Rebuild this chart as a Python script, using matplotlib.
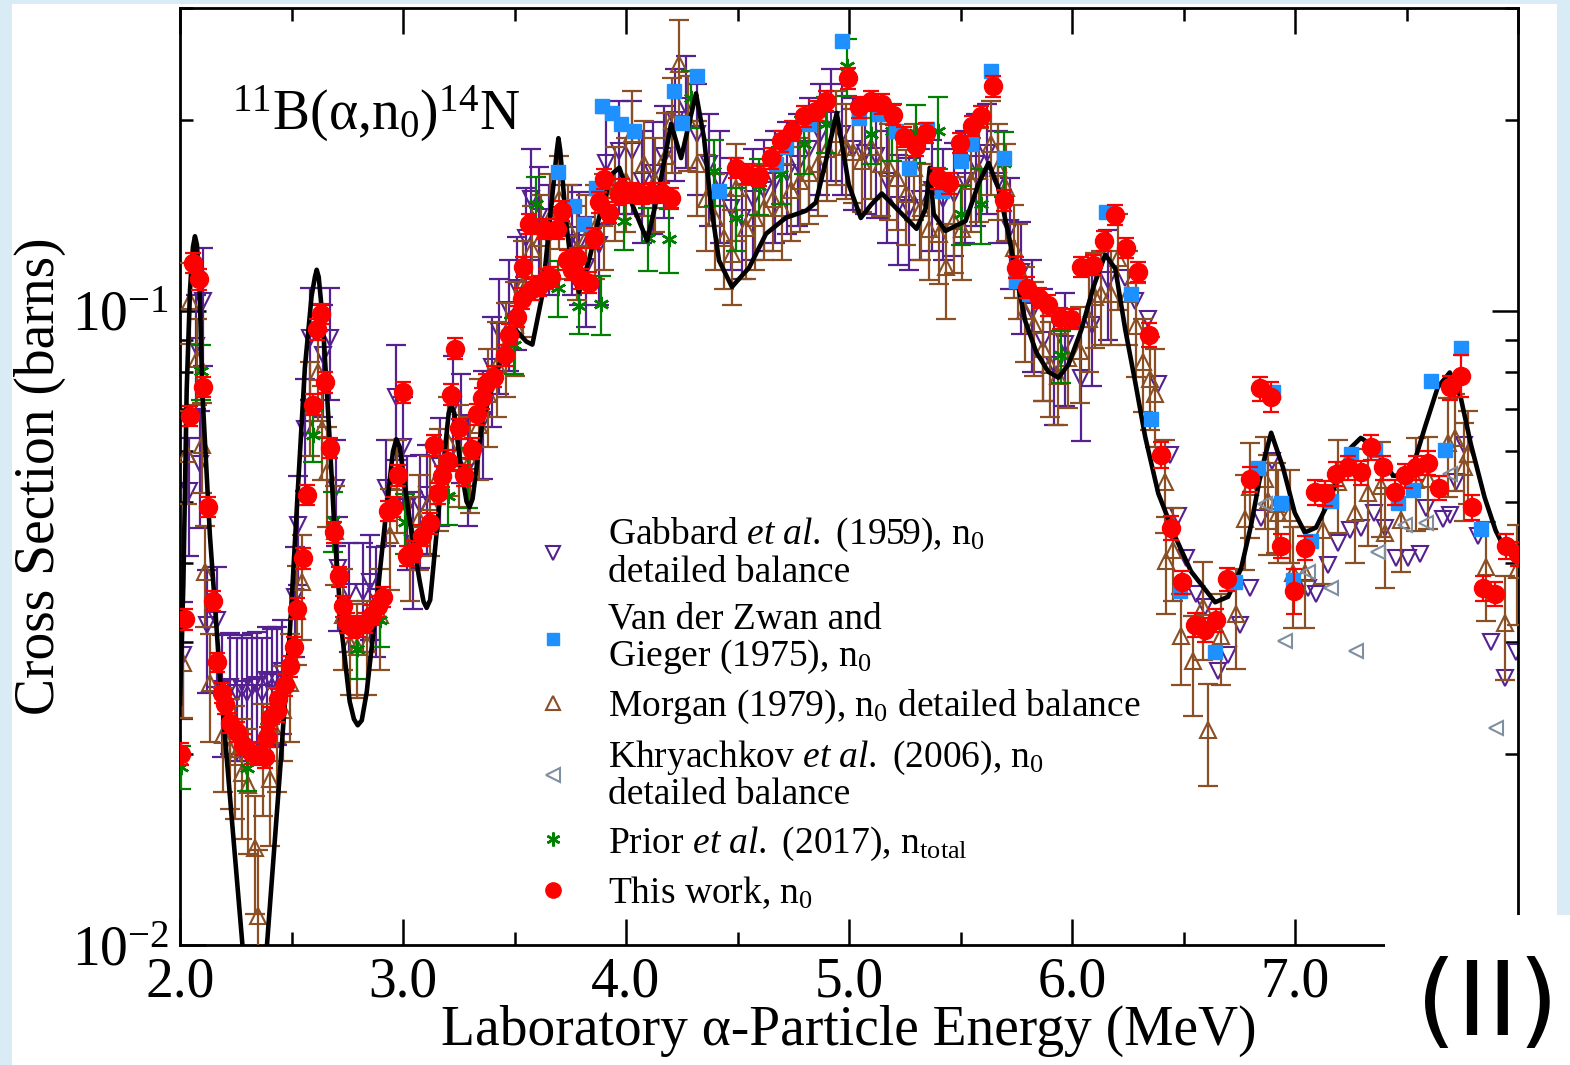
import numpy as np
import matplotlib
matplotlib.use("Agg")
import matplotlib.pyplot as plt
import matplotlib.ticker as mticker
from matplotlib.lines import Line2D
from matplotlib.patches import Rectangle

plt.rcParams['font.family'] = ['Liberation Serif', 'DejaVu Serif']
plt.rcParams['mathtext.fontset'] = 'custom'
plt.rcParams['mathtext.rm'] = 'Liberation Serif'
plt.rcParams['mathtext.it'] = 'Liberation Serif:italic'
plt.rcParams['mathtext.default'] = 'regular'

# ---- data (energy in MeV, cross section in barns) ----
# This work, n0 : (E, sigma, err)
this_work = [
    (2.004, 0.0200, 0.0008), (2.022, 0.0326, 0.0012), (2.045, 0.0683, 0.0025),
    (2.058, 0.1190, 0.0045), (2.085, 0.1120, 0.0042), (2.103, 0.0759, 0.0028),
    (2.125, 0.0491, 0.0018), (2.148, 0.0349, 0.0013), (2.166, 0.0279, 0.0010),
    (2.188, 0.0250, 0.0009), (2.201, 0.0240, 0.0009), (2.224, 0.0224, 0.0008),
    (2.255, 0.0217, 0.0008), (2.283, 0.0207, 0.0008), (2.322, 0.0201, 0.0008),
    (2.358, 0.0200, 0.0008), (2.380, 0.0198, 0.0008), (2.388, 0.0213, 0.0008),
    (2.403, 0.0228, 0.0009), (2.434, 0.0234, 0.0009), (2.440, 0.0244, 0.0009),
    (2.470, 0.0257, 0.0010), (2.492, 0.0275, 0.0010), (2.510, 0.0295, 0.0011),
    (2.523, 0.0339, 0.0013), (2.551, 0.0407, 0.0015), (2.568, 0.0513, 0.0019),
    (2.595, 0.0711, 0.0027), (2.613, 0.0934, 0.0035), (2.634, 0.0989, 0.0037),
    (2.649, 0.0771, 0.0029), (2.671, 0.0608, 0.0023), (2.689, 0.0447, 0.0017),
    (2.712, 0.0381, 0.0014), (2.730, 0.0342, 0.0013), (2.747, 0.0322, 0.0012),
    (2.770, 0.0317, 0.0012), (2.797, 0.0318, 0.0012), (2.828, 0.0322, 0.0012),
    (2.860, 0.0331, 0.0012), (2.886, 0.0342, 0.0013), (2.909, 0.0354, 0.0013),
    (2.931, 0.0484, 0.0018), (2.953, 0.0491, 0.0018), (2.976, 0.0550, 0.0021),
    (2.998, 0.0743, 0.0028), (3.016, 0.0411, 0.0015), (3.043, 0.0417, 0.0016),
    (3.083, 0.0442, 0.0017), (3.119, 0.0462, 0.0017), (3.141, 0.0614, 0.0023),
    (3.159, 0.0515, 0.0019), (3.177, 0.0548, 0.0021), (3.200, 0.0580, 0.0022),
    (3.217, 0.0737, 0.0028), (3.231, 0.0871, 0.0033), (3.253, 0.0652, 0.0024),
    (3.275, 0.0550, 0.0021), (3.311, 0.0606, 0.0023), (3.334, 0.0686, 0.0026),
    (3.356, 0.0727, 0.0027), (3.374, 0.0765, 0.0029), (3.410, 0.0787, 0.0030),
    (3.459, 0.0850, 0.0032), (3.477, 0.0917, 0.0034), (3.513, 0.0979, 0.0037),
    (3.535, 0.1045, 0.0039), (3.540, 0.1173, 0.0044), (3.567, 0.1370, 0.0051),
    (3.580, 0.1080, 0.0040), (3.610, 0.1094, 0.0041), (3.634, 0.1346, 0.0050),
    (3.643, 0.1123, 0.0042), (3.665, 0.1131, 0.0042), (3.692, 0.1346, 0.0050),
    (3.714, 0.1437, 0.0054), (3.736, 0.1203, 0.0045), (3.759, 0.1160, 0.0044),
    (3.782, 0.1210, 0.0045), (3.800, 0.1123, 0.0042), (3.835, 0.1107, 0.0042),
    (3.858, 0.1303, 0.0049), (3.880, 0.1484, 0.0056), (3.902, 0.1613, 0.0060),
    (3.925, 0.1427, 0.0054), (3.970, 0.1523, 0.0057), (3.983, 0.1557, 0.0058),
    (4.028, 0.1534, 0.0058), (4.073, 0.1528, 0.0057), (4.117, 0.1534, 0.0058),
    (4.162, 0.1534, 0.0058), (4.202, 0.1506, 0.0056), (4.493, 0.1679, 0.0063),
    (4.543, 0.1644, 0.0062), (4.596, 0.1632, 0.0061), (4.650, 0.1740, 0.0065),
    (4.695, 0.1850, 0.0069), (4.744, 0.1920, 0.0072), (4.798, 0.2027, 0.0076),
    (4.851, 0.2065, 0.0077), (4.896, 0.2141, 0.0080), (4.995, 0.2326, 0.0087),
    (5.044, 0.2095, 0.0079), (5.098, 0.2141, 0.0080), (5.147, 0.2118, 0.0079),
    (5.196, 0.2035, 0.0076), (5.245, 0.1879, 0.0070), (5.299, 0.1820, 0.0068),
    (5.344, 0.1907, 0.0072), (5.398, 0.1618, 0.0061), (5.447, 0.1589, 0.0060),
    (5.496, 0.1840, 0.0069), (5.550, 0.1956, 0.0073), (5.594, 0.2027, 0.0076),
    (5.644, 0.2257, 0.0085), (5.697, 0.1493, 0.0056), (5.747, 0.1169, 0.0044),
    (5.796, 0.1087, 0.0041), (5.850, 0.1048, 0.0039), (5.894, 0.1020, 0.0038),
    (5.948, 0.0973, 0.0036), (5.997, 0.0971, 0.0036), (6.042, 0.1173, 0.0044),
    (6.096, 0.1182, 0.0044), (6.145, 0.1288, 0.0048), (6.194, 0.1416, 0.0053),
    (6.244, 0.1256, 0.0047), (6.297, 0.1152, 0.0043), (6.346, 0.0916, 0.0040),
    (6.400, 0.0593, 0.0028), (6.445, 0.0455, 0.0020), (6.494, 0.0373, 0.0016),
    (6.552, 0.0320, 0.0014), (6.597, 0.0314, 0.0014), (6.646, 0.0325, 0.0014),
    (6.696, 0.0377, 0.0016), (6.799, 0.0542, 0.0024), (6.843, 0.0754, 0.0033),
    (6.893, 0.0732, 0.0040), (6.937, 0.0426, 0.0019), (6.995, 0.0362, 0.0030),
    (7.044, 0.0423, 0.0019), (7.090, 0.0517, 0.0023), (7.134, 0.0515, 0.0023),
    (7.183, 0.0553, 0.0024), (7.237, 0.0566, 0.0025), (7.295, 0.0556, 0.0024),
    (7.340, 0.0609, 0.0027), (7.394, 0.0566, 0.0025), (7.448, 0.0517, 0.0023),
    (7.492, 0.0550, 0.0024), (7.542, 0.0566, 0.0025), (7.595, 0.0576, 0.0025),
    (7.645, 0.0526, 0.0023), (7.694, 0.0757, 0.0033), (7.743, 0.0790, 0.0060),
    (7.792, 0.0490, 0.0022), (7.842, 0.0365, 0.0016), (7.895, 0.0358, 0.0016),
    (7.944, 0.0425, 0.0019), (8.000, 0.0414, 0.0018),
]

# Gabbard et al. (1959) : (E, sigma, err)  err 0 = no bar drawn
gabbard = [
    (2.013, 0.0287, 0.006), (2.040, 0.052, 0.011), (2.070, 0.088, 0.018),
    (2.090, 0.0574, 0.012), (2.103, 0.1037, 0.022), (2.120, 0.032, 0.007),
    (2.166, 0.0325, 0.007), (2.190, 0.0253, 0.0055), (2.224, 0.0255, 0.0055),
    (2.255, 0.0250, 0.0055), (2.278, 0.0253, 0.0055), (2.300, 0.0250, 0.0055),
    (2.322, 0.0255, 0.0055), (2.345, 0.0257, 0.0055), (2.367, 0.0250, 0.0055),
    (2.390, 0.0262, 0.0055), (2.412, 0.0260, 0.0055), (2.434, 0.0262, 0.0055),
    (2.457, 0.0270, 0.0055), (2.515, 0.0354, 0.007), (2.528, 0.0459, 0.009),
    (2.560, 0.0650, 0.013), (2.582, 0.0904, 0.018), (2.640, 0.0850, 0.017),
    (2.671, 0.0904, 0.018), (2.700, 0.0526, 0.010), (2.710, 0.0393, 0.008),
    (2.760, 0.0360, 0.007), (2.820, 0.0360, 0.007), (2.850, 0.0373, 0.007),
    (2.880, 0.0354, 0.007), (2.925, 0.0526, 0.010), (2.970, 0.0732, 0.015),
    (3.000, 0.0610, 0.012), (3.016, 0.0490, 0.010), (3.043, 0.0428, 0.009),
    (3.074, 0.0493, 0.010), (3.106, 0.0513, 0.010), (3.164, 0.0568, 0.011),
    (3.222, 0.0709, 0.014), (3.262, 0.0664, 0.013), (3.290, 0.0568, 0.011),
    (3.357, 0.0673, 0.013), (3.397, 0.0816, 0.016), (3.432, 0.0930, 0.019),
    (3.477, 0.1004, 0.020), (3.513, 0.1087, 0.022), (3.553, 0.1303, 0.026),
    (3.575, 0.1500, 0.030), (3.610, 0.1406, 0.028), (3.656, 0.1318, 0.026),
    (3.759, 0.1318, 0.026), (3.790, 0.1280, 0.026), (3.822, 0.1173, 0.023),
    (3.880, 0.1270, 0.025), (3.911, 0.1710, 0.034), (3.970, 0.1782, 0.036),
    (4.028, 0.1782, 0.036), (4.070, 0.160, 0.032), (4.120, 0.165, 0.033),
    (4.170, 0.175, 0.035), (4.220, 0.200, 0.040), (4.270, 0.210, 0.042),
    (4.320, 0.190, 0.038), (4.370, 0.170, 0.034), (4.420, 0.160, 0.032),
    (4.470, 0.145, 0.029), (4.520, 0.140, 0.028), (4.570, 0.150, 0.030),
    (4.620, 0.155, 0.031), (4.670, 0.160, 0.032), (4.720, 0.165, 0.033),
    (4.770, 0.170, 0.034), (4.820, 0.180, 0.036), (4.870, 0.190, 0.038),
    (4.920, 0.200, 0.040), (4.970, 0.190, 0.038), (5.020, 0.180, 0.036),
    (5.070, 0.177, 0.035), (5.120, 0.175, 0.035), (5.170, 0.160, 0.032),
    (5.220, 0.147, 0.029), (5.270, 0.145, 0.029), (5.320, 0.150, 0.030),
    (5.370, 0.155, 0.031), (5.420, 0.150, 0.030), (5.470, 0.153, 0.031),
    (5.520, 0.160, 0.032), (5.570, 0.170, 0.034), (5.620, 0.177, 0.035),
    (5.670, 0.160, 0.032), (5.720, 0.135, 0.027), (5.770, 0.115, 0.023),
    (5.820, 0.100, 0.020), (5.870, 0.090, 0.018), (5.920, 0.082, 0.016),
    (5.970, 0.0887, 0.018), (6.042, 0.0784, 0.016), (6.090, 0.095, 0.019),
    (6.163, 0.1119, 0.022), (6.239, 0.1127, 0), (6.284, 0.1037, 0),
    (6.342, 0.0971, 0), (6.387, 0.0765, 0), (6.440, 0.0593, 0),
    (6.476, 0.0474, 0), (6.512, 0.0408, 0), (6.557, 0.0358, 0),
    (6.597, 0.0341, 0), (6.655, 0.0270, 0), (6.700, 0.0287, 0),
    (6.753, 0.0320, 0), (6.799, 0.0366, 0), (6.848, 0.0471, 0),
    (6.897, 0.0580, 0), (7.058, 0.0366, 0), (7.094, 0.0358, 0),
    (7.148, 0.0397, 0), (7.192, 0.0430, 0), (7.246, 0.0451, 0),
    (7.295, 0.0455, 0), (7.353, 0.0480, 0), (7.403, 0.0455, 0),
    (7.452, 0.0408, 0), (7.506, 0.0408, 0), (7.560, 0.0414, 0),
    (7.587, 0.0488, 0), (7.663, 0.0470, 0), (7.694, 0.0476, 0),
    (7.720, 0.0536, 0), (7.760, 0.0613, 0), (7.820, 0.0442, 0),
    (7.877, 0.0300, 0), (7.940, 0.0264, 0), (7.990, 0.0290, 0),
]

# Morgan (1979) : (E, sigma, err)
morgan = [
    (2.013, 0.0278, 0.005), (2.030, 0.0595, 0.010), (2.045, 0.1037, 0.015),
    (2.076, 0.0840, 0.013), (2.098, 0.0615, 0.010), (2.112, 0.0387, 0.007),
    (2.134, 0.0259, 0.005), (2.192, 0.0214, 0.004), (2.224, 0.0204, 0.004),
    (2.246, 0.0198, 0.004), (2.278, 0.0187, 0.004), (2.304, 0.0179, 0.004),
    (2.336, 0.0142, 0.003), (2.350, 0.0111, 0.003), (2.372, 0.0200, 0.004),
    (2.403, 0.0183, 0.004), (2.434, 0.0214, 0.004), (2.461, 0.0235, 0.004),
    (2.492, 0.0259, 0.005), (2.523, 0.0336, 0.006), (2.546, 0.0373, 0.007),
    (2.582, 0.0709, 0.012), (2.618, 0.0799, 0.013), (2.636, 0.0650, 0.011),
    (2.658, 0.0556, 0.010), (2.694, 0.0450, 0.008), (2.730, 0.0331, 0.006),
    (2.761, 0.0298, 0.005), (2.792, 0.0295, 0.005), (2.837, 0.0298, 0.005),
    (2.895, 0.0331, 0.006), (2.940, 0.0443, 0.008), (2.971, 0.0536, 0.009),
    (3.030, 0.0428, 0.008), (3.070, 0.0470, 0.008), (3.120, 0.0500, 0.009),
    (3.160, 0.0550, 0.010), (3.200, 0.0620, 0.011), (3.250, 0.0600, 0.011),
    (3.300, 0.0580, 0.010), (3.340, 0.0660, 0.012), (3.380, 0.0740, 0.013),
    (3.420, 0.0820, 0.014), (3.460, 0.0880, 0.015), (3.500, 0.0950, 0.016),
    (3.540, 0.1100, 0.019), (3.580, 0.1250, 0.021), (3.620, 0.1300, 0.022),
    (3.660, 0.1400, 0.024), (3.700, 0.1500, 0.025), (3.740, 0.1350, 0.023),
    (3.780, 0.1250, 0.021), (3.820, 0.1300, 0.022), (3.860, 0.1350, 0.023),
    (3.900, 0.1400, 0.024), (3.950, 0.1550, 0.026), (4.000, 0.1600, 0.027),
    (4.028, 0.1900, 0.032), (4.080, 0.1700, 0.029), (4.130, 0.1600, 0.027),
    (4.180, 0.1750, 0.030), (4.207, 0.1990, 0.034), (4.238, 0.2450, 0.042),
    (4.280, 0.2000, 0.034), (4.320, 0.1700, 0.029), (4.360, 0.1500, 0.026),
    (4.400, 0.1400, 0.024), (4.440, 0.1300, 0.022), (4.475, 0.1229, 0.021),
    (4.493, 0.1560, 0.027), (4.540, 0.1350, 0.023), (4.580, 0.1400, 0.024),
    (4.620, 0.1450, 0.025), (4.660, 0.1500, 0.026), (4.700, 0.1450, 0.025),
    (4.740, 0.1550, 0.026), (4.780, 0.1600, 0.027), (4.820, 0.1650, 0.028),
    (4.860, 0.1700, 0.029), (4.900, 0.1800, 0.031), (4.940, 0.1900, 0.032),
    (4.985, 0.1810, 0.031), (5.020, 0.1780, 0.030), (5.057, 0.1720, 0.029),
    (5.100, 0.1810, 0.031), (5.142, 0.1700, 0.029), (5.178, 0.1680, 0.029),
    (5.214, 0.1620, 0.028), (5.254, 0.1530, 0.026), (5.290, 0.1680, 0.029),
    (5.322, 0.1450, 0.025), (5.357, 0.1346, 0.023), (5.402, 0.1320, 0.022),
    (5.433, 0.1170, 0.020), (5.469, 0.1385, 0.024), (5.505, 0.1346, 0.023),
    (5.545, 0.1600, 0.027), (5.581, 0.1660, 0.028), (5.635, 0.1833, 0.031),
    (5.670, 0.1680, 0.029), (5.706, 0.1560, 0.027), (5.738, 0.1256, 0.021),
    (5.760, 0.1169, 0.020), (5.790, 0.1000, 0.017), (5.830, 0.0950, 0.016),
    (5.870, 0.0870, 0.015), (5.900, 0.0820, 0.014), (5.939, 0.0790, 0.013),
    (5.984, 0.0843, 0.014), (6.038, 0.0865, 0.015), (6.074, 0.0971, 0.017),
    (6.105, 0.1052, 0.018), (6.132, 0.1064, 0.018), (6.176, 0.1064, 0.018),
    (6.208, 0.1211, 0.021), (6.252, 0.1064, 0.018), (6.288, 0.0947, 0.016),
    (6.320, 0.0831, 0.014), (6.351, 0.0779, 0.013), (6.373, 0.0740, 0.013),
    (6.418, 0.0536, 0.009), (6.423, 0.0403, 0.007), (6.454, 0.0419, 0.007),
    (6.490, 0.0307, 0.005), (6.543, 0.0280, 0.005), (6.588, 0.0341, 0.006),
    (6.610, 0.0218, 0.004), (6.669, 0.0307, 0.005), (6.736, 0.0332, 0.006),
    (6.776, 0.0470, 0.008), (6.799, 0.0528, 0.009), (6.866, 0.0542, 0.009),
    (6.880, 0.0502, 0.009), (6.915, 0.0495, 0.008), (6.924, 0.0480, 0.008),
    (6.977, 0.0480, 0.008), (6.990, 0.0386, 0.007), (7.044, 0.0386, 0.007),
    (7.125, 0.0451, 0.008), (7.192, 0.0536, 0.009), (7.268, 0.0480, 0.008),
    (7.327, 0.0515, 0.009), (7.385, 0.0530, 0.009), (7.403, 0.0446, 0.008),
    (7.475, 0.0467, 0.008), (7.542, 0.0540, 0.009), (7.595, 0.0543, 0.009),
    (7.685, 0.0618, 0.011), (7.716, 0.0630, 0.011), (7.760, 0.0566, 0.010),
    (7.774, 0.0595, 0.010), (7.855, 0.0394, 0.007), (7.940, 0.0322, 0.006),
    (7.994, 0.0390, 0.007),
]

# Van der Zwan and Gieger (1975) : (E, sigma)
zwan = [
    (3.697, 0.1656), (3.768, 0.1463), (3.813, 0.1370), (3.867, 0.1560),
    (3.893, 0.2102), (3.938, 0.2048), (3.978, 0.1970), (4.037, 0.1920),
    (4.216, 0.2221), (4.252, 0.1975), (4.319, 0.2343), (4.417, 0.1546),
    (4.672, 0.1700), (4.717, 0.1810), (4.820, 0.1970), (4.968, 0.2659),
    (5.044, 0.2012), (5.133, 0.2040), (5.210, 0.1920), (5.268, 0.1680),
    (5.348, 0.1935), (5.415, 0.1546), (5.500, 0.1720), (5.545, 0.1833),
    (5.639, 0.2387), (5.693, 0.1740), (5.751, 0.1115), (5.805, 0.1064),
    (6.154, 0.1431), (6.266, 0.1064), (6.355, 0.0676), (6.485, 0.0361),
    (6.642, 0.0290), (6.731, 0.0373), (6.835, 0.0564), (6.902, 0.0743),
    (6.937, 0.0497), (6.990, 0.0376), (7.072, 0.0434), (7.161, 0.0502),
    (7.250, 0.0595), (7.358, 0.0602), (7.461, 0.0497), (7.528, 0.0521),
    (7.609, 0.0776), (7.672, 0.0602), (7.743, 0.0874), (7.833, 0.0453),
]

# Khryachkov et al. (2006) : (E, sigma)
khryachkov = [
    (6.866, 0.0495), (6.955, 0.0302), (7.058, 0.0387), (7.161, 0.0366),
    (7.273, 0.0291), (7.371, 0.0416), (7.492, 0.0459), (7.587, 0.0462),
    (7.694, 0.0553), (7.900, 0.0220),
]

# Prior et al. (2017), n_total : (E, sigma, err)
prior = [
    (2.004, 0.0191, 0.0015), (2.094, 0.0804, 0.008), (2.300, 0.0190, 0.0015),
    (2.595, 0.0637, 0.006), (2.685, 0.0467, 0.005), (2.792, 0.0293, 0.003),
    (2.895, 0.0325, 0.003), (3.007, 0.0464, 0.005), (3.200, 0.0510, 0.005),
    (3.290, 0.0548, 0.006), (3.499, 0.0884, 0.009), (3.598, 0.1474, 0.015),
    (3.697, 0.1087, 0.011), (3.790, 0.1018, 0.010), (3.888, 0.1026, 0.011),
    (3.992, 0.1385, 0.014), (4.100, 0.1303, 0.015), (4.193, 0.1298, 0.015),
    (4.290, 0.2163, 0.022), (4.395, 0.1660, 0.020), (4.493, 0.1401, 0.016),
    (4.596, 0.1573, 0.016), (4.695, 0.1644, 0.017), (4.798, 0.1833, 0.019),
    (4.896, 0.1970, 0.020), (4.990, 0.2427, 0.025), (5.098, 0.1900, 0.020),
    (5.192, 0.1920, 0.020), (5.299, 0.1907, 0.020), (5.398, 0.1920, 0.025),
    (5.500, 0.1421, 0.015), (5.594, 0.1475, 0.020), (5.693, 0.1710, 0.020),
    (5.950, 0.0850, 0.008),
]

# R-matrix / theory curve
curve_e = [2.000, 2.015, 2.030, 2.045, 2.058, 2.067, 2.076, 2.088, 2.100, 2.134,
           2.180, 2.233, 2.280, 2.330, 2.390, 2.448, 2.493, 2.529, 2.560, 2.590,
           2.605, 2.613, 2.622, 2.640, 2.671, 2.694, 2.725, 2.761, 2.780, 2.797,
           2.815, 2.837, 2.880, 2.925, 2.955, 2.970, 2.985, 3.030, 3.074, 3.092,
           3.106, 3.122, 3.164, 3.205, 3.217, 3.230, 3.255, 3.285, 3.298, 3.312,
           3.357, 3.419, 3.463, 3.508, 3.553, 3.580, 3.625, 3.665, 3.690, 3.697,
           3.705, 3.732, 3.760, 3.790, 3.835, 3.880, 3.938, 3.970, 4.028, 4.095,
           4.149, 4.202, 4.247, 4.314, 4.350, 4.381, 4.417, 4.475, 4.552, 4.628,
           4.717, 4.807, 4.851, 4.896, 4.945, 4.999, 5.053, 5.100, 5.147, 5.210,
           5.303, 5.344, 5.362, 5.380, 5.433, 5.523, 5.581, 5.626, 5.670, 5.715,
           5.760, 5.790, 5.840, 5.894, 5.939, 5.984, 6.042, 6.096, 6.149, 6.194,
           6.239, 6.284, 6.328, 6.387, 6.463, 6.534, 6.642, 6.700, 6.758, 6.803,
           6.848, 6.893, 6.946, 6.999, 7.044, 7.094, 7.148, 7.201, 7.250, 7.295,
           7.349, 7.394, 7.439, 7.492, 7.537, 7.582, 7.640, 7.694, 7.743, 7.788,
           7.850, 7.900, 7.944, 8.000]
curve_s = [0.0240, 0.0370, 0.0750, 0.1080, 0.1260, 0.1310, 0.1270, 0.1080, 0.0746, 0.0443,
           0.0263, 0.0157, 0.0100, 0.0075, 0.0100, 0.0187, 0.0313, 0.0526, 0.0813, 0.1054,
           0.1130, 0.1160, 0.1130, 0.0968, 0.0627, 0.0443, 0.0313, 0.0242, 0.0227, 0.0222,
           0.0226, 0.0250, 0.0342, 0.0484, 0.0600, 0.0627, 0.0610, 0.0467, 0.0376, 0.0348,
           0.0340, 0.0350, 0.0500, 0.0690, 0.0709, 0.0690, 0.0580, 0.0500, 0.0490, 0.0505,
           0.0673, 0.0796, 0.0884, 0.0930, 0.0894, 0.0884, 0.1060, 0.1463, 0.1790, 0.1870,
           0.1790, 0.1371, 0.1144, 0.1070, 0.1203, 0.1406, 0.1644, 0.1680, 0.1470, 0.1290,
           0.1560, 0.1970, 0.1740, 0.2200, 0.1870, 0.1470, 0.1200, 0.1090, 0.1169, 0.1322,
           0.1401, 0.1437, 0.1480, 0.1720, 0.2050, 0.1580, 0.1400, 0.1470, 0.1530, 0.1453,
           0.1346, 0.1450, 0.1680, 0.1420, 0.1336, 0.1385, 0.1586, 0.1710, 0.1560, 0.1322,
           0.1090, 0.0964, 0.0860, 0.0801, 0.0784, 0.0822, 0.0933, 0.1090, 0.1225, 0.1165,
           0.0933, 0.0770, 0.0633, 0.0515, 0.0440, 0.0388, 0.0347, 0.0354, 0.0392, 0.0459,
           0.0558, 0.0642, 0.0566, 0.0480, 0.0447, 0.0455, 0.0497, 0.0553, 0.0608, 0.0630,
           0.0613, 0.0580, 0.0550, 0.0546, 0.0580, 0.0654, 0.0757, 0.0799, 0.0730, 0.0617,
           0.0508, 0.0450, 0.0419, 0.0411]

x_ticks = [2, 3, 4, 5, 6, 7, 8]
x_tick_labels = ['2.0', '3.0', '4.0', '5.0', '6.0', '7.0', '']
y_ticks = [0.01, 0.1]
y_tick_labels = [r'$10^{-2}$', r'$10^{-1}$']

c_gab = '#55208f'
c_zwan = '#1e90ff'
c_mor = '#8a4f24'
c_khr = '#7f8fa0'
c_pri = '#008000'
c_red = '#ff0000'

fig = plt.figure(figsize=(15.7, 10.65), dpi=100)
fig.patch.set_facecolor('#d9ecf6')
fig.add_artist(Rectangle((12 / 1570, 0), 1545 / 1570, 1061 / 1065,
                         transform=fig.transFigure, facecolor='white',
                         edgecolor='none', zorder=-5))

ax = fig.add_axes([180 / 1570, 120 / 1065, 1338 / 1570, 937 / 1065])
ax.set_facecolor('white')

g = np.array(gabbard)
m = np.array(morgan)
p = np.array(prior)
r = np.array(this_work)
z = np.array(zwan)
k = np.array(khryachkov)

ebar = dict(capsize=7, elinewidth=1.6, capthick=1.6, fmt='none')

sel = g[:, 2] > 0
ax.errorbar(g[sel, 0], g[sel, 1], yerr=g[sel, 2], ecolor=c_gab, zorder=2, **ebar)
ax.plot(g[:, 0], g[:, 1], ls='none', marker='v', ms=11, mfc='none',
        mec=c_gab, mew=1.5, zorder=2)

ax.errorbar(m[:, 0], m[:, 1], yerr=m[:, 2], ecolor=c_mor, zorder=3, **ebar)
ax.plot(m[:, 0], m[:, 1], ls='none', marker='^', ms=11, mfc='none',
        mec=c_mor, mew=1.5, zorder=3)

ax.plot(k[:, 0], k[:, 1], ls='none', marker='<', ms=10, mfc='none',
        mec=c_khr, mew=1.5, zorder=4)

ax.errorbar(p[:, 0], p[:, 1], yerr=p[:, 2], ecolor=c_pri, zorder=4, **ebar)
ax.plot(p[:, 0], p[:, 1], ls='none', marker=(6, 2, 0), ms=11,
        mec=c_pri, mew=1.8, zorder=4)

ax.plot(curve_e, curve_s, color='black', lw=3.3, zorder=5,
        solid_joinstyle='round')

ax.plot(z[:, 0], z[:, 1], ls='none', marker='s', ms=10, mfc=c_zwan,
        mec=c_zwan, zorder=6)

ax.errorbar(r[:, 0], r[:, 1], yerr=r[:, 2], fmt='o', ms=13, color=c_red,
            mec=c_red, ecolor=c_red, elinewidth=1.6, capsize=6, capthick=1.6,
            zorder=7)

ax.set_yscale('log')
ax.set_xlim(2.0, 8.0)
ax.set_ylim(0.01, 0.3)

ax.xaxis.set_major_locator(mticker.FixedLocator(x_ticks))
ax.xaxis.set_major_formatter(mticker.FixedFormatter(x_tick_labels))
ax.xaxis.set_minor_locator(mticker.MultipleLocator(0.5))
ax.yaxis.set_major_locator(mticker.FixedLocator(y_ticks))
ax.yaxis.set_major_formatter(mticker.FixedFormatter(y_tick_labels))
ax.yaxis.set_minor_locator(mticker.LogLocator(base=10, subs=np.arange(2, 10)))
ax.yaxis.set_minor_formatter(mticker.NullFormatter())

ax.tick_params(which='both', direction='in', top=True, right=True,
               width=1.8, labelsize=40)
ax.tick_params(which='major', length=19, pad=8)
ax.tick_params(which='minor', length=9.5)
for s in ax.spines.values():
    s.set_linewidth(2)

ax.set_xlabel(r'Laboratory α-Particle Energy (MeV)', fontsize=40)
ax.set_ylabel('Cross Section (barns)', fontsize=40)
ax.xaxis.set_label_coords(0.5, -0.064)
ax.yaxis.set_label_coords(-0.085, 0.5)

ax.text(0.039, 0.87, r'$^{11}$B(α,n$_0$)$^{14}$N', transform=ax.transAxes,
        fontsize=40, ha='left', va='baseline')

handles = [
    Line2D([], [], ls='none', marker='v', ms=10, mfc='none', mec=c_gab, mew=1.5),
    Line2D([], [], ls='none', marker='s', ms=9, mfc=c_zwan, mec=c_zwan),
    Line2D([], [], ls='none', marker='^', ms=10, mfc='none', mec=c_mor, mew=1.5),
    Line2D([], [], ls='none', marker='<', ms=10, mfc='none', mec=c_khr, mew=1.5),
    Line2D([], [], ls='none', marker=(6, 2, 0), ms=10, mec=c_pri, mew=1.8),
    Line2D([], [], ls='none', marker='o', ms=11, mfc=c_red, mec=c_red),
]
labels = [
    'Gabbard $\\mathit{et\\ al.}$ (1959), n$_0$\ndetailed balance',
    'Van der Zwan and\nGieger (1975), n$_0$',
    'Morgan (1979), n$_0$ detailed balance',
    'Khryachkov $\\mathit{et\\ al.}$ (2006), n$_0$\ndetailed balance',
    'Prior $\\mathit{et\\ al.}$ (2017), n$_{total}$',
    'This work, n$_0$',
]
leg = ax.legend(handles, labels, loc='upper left', bbox_to_anchor=(0.2646, 0.458),
                frameon=False, fontsize=27, handlelength=1.0, handletextpad=0.97,
                labelspacing=0.32, borderpad=0, borderaxespad=0)
for t in leg.get_texts():
    t.set_linespacing(1.05)

# label box in the lower right corner
fig.add_artist(Rectangle((1385 / 1570, 0), 185 / 1570, 150 / 1065,
                         transform=fig.transFigure, facecolor='white',
                         edgecolor='none', zorder=10))
fig.text(1487 / 1570, 1 - 1006 / 1065, '(II)', ha='center', va='center',
         fontsize=75, family='DejaVu Sans', zorder=11)

fig.savefig('out.png', dpi=100, facecolor=fig.get_facecolor())
